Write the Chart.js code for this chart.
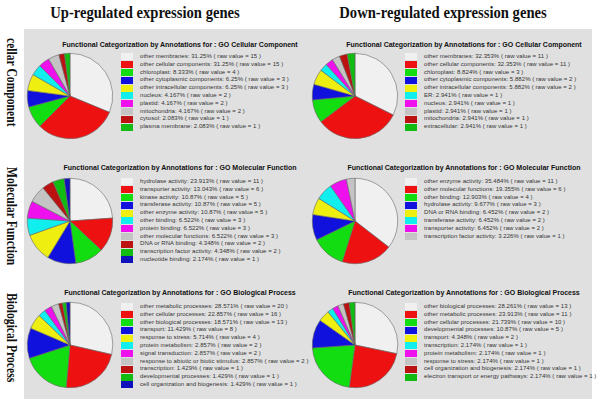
<!DOCTYPE html>
<html>
<head>
<meta charset="utf-8">
<script src="https://cdn.jsdelivr.net/npm/chart.js@4/dist/chart.umd.min.js"></script>
<style>
  body { margin: 0; width: 600px; height: 406px; background: #fff; position: relative; overflow: hidden; }
  .panel { position: absolute; left: 24px; top: 29px; width: 568px; height: 370px; background: #e0e0e0; }
  .head { position: absolute; top: 3px; font: bold 17px "Liberation Serif", "DejaVu Serif", serif; color: #111; white-space: nowrap; transform: translateX(-50%) scaleX(0.86); }
  .rowlab { position: absolute; font: bold 14px "Liberation Serif", serif; color: #111; white-space: nowrap;
            transform-origin: 0 0; transform: rotate(90deg) scaleX(0.83); }
  .title { position: absolute; font: bold 7px "Liberation Sans", Arial, sans-serif; color: #111; white-space: nowrap; transform: translate(-50%, -50%); }
  .pie { position: absolute; width: 88px; height: 88px; }
  .legend { position: absolute; width: max-content; }
  .legend .row { height: 7.8px; display: flex; align-items: center; }
  .legend .sw { width: 12px; height: 7px; margin-right: 7px; flex: none; }
  .legend .tx { font: 6px "Liberation Sans", Arial, sans-serif; letter-spacing: 0.05px; color: #333; white-space: nowrap; line-height: 7.8px; }
</style>
</head>
<body>
<div class="panel"></div>
<div class="head" style="left:145px">Up-regulated expression genes</div>
<div class="head" style="left:443px">Down-regulated expression genes</div>
<div class="rowlab" style="left:19px; top:38px">cellar Component</div>
<div class="rowlab" style="left:19px; top:167px">Molecular Function</div>
<div class="rowlab" style="left:19px; top:293px">Biological Process</div>
<div id="root"></div>
<script>
var ccUpLabels = ['other membranes', 'other cellular components', 'chloroplast', 'other cytoplasmic components', 'other intracellular components', 'nucleus', 'plastid', 'mitochondria', 'cytosol', 'plasma membrane'];
var ccUpValues = [15, 15, 4, 3, 3, 2, 2, 2, 1, 1];

var ccDownLabels = ['other membranes', 'other cellular components', 'chloroplast', 'other cytoplasmic components', 'other intracellular components', 'ER', 'nucleus', 'plastid', 'mitochondria', 'extracellular'];
var ccDownValues = [11, 11, 3, 2, 2, 1, 1, 1, 1, 1];

var mfUpLabels = ['hydrolase activity', 'transporter activity', 'kinase activity', 'transferase activity', 'other enzyme activity', 'other binding', 'protein binding', 'other molecular functions', 'DNA or RNA binding', 'transcription factor activity', 'nucleotide binding'];
var mfUpValues = [11, 6, 5, 5, 5, 3, 3, 3, 2, 2, 1];

var mfDownLabels = ['other enzyme activity', 'other molecular functions', 'other binding', 'hydrolase activity', 'DNA or RNA binding', 'transferase activity', 'transporter activity', 'transcription factor activity'];
var mfDownValues = [11, 6, 4, 3, 2, 2, 2, 1];

var bpUpLabels = ['other metabolic processes', 'other cellular processes', 'other biological processes', 'transport', 'response to stress', 'protein metabolism', 'signal transduction', 'response to abiotic or biotic stimulus', 'transcription', 'developmental processes', 'cell organization and biogenesis'];
var bpUpValues = [20, 16, 13, 8, 4, 2, 2, 2, 1, 1, 1];

var bpDownLabels = ['other biological processes', 'other metabolic processes', 'other cellular processes', 'developmental processes', 'transport', 'transcription', 'protein metabolism', 'response to stress', 'cell organization and biogenesis', 'electron transport or energy pathways'];
var bpDownValues = [13, 11, 10, 5, 2, 1, 1, 1, 1, 1];

var sliceColors = ['#f0f0f0', '#ee1111', '#11dd11', '#1111dd', '#eeee11', '#11eeee', '#ee11ee', '#c4c4c4', '#bb1111', '#11bb11', '#1111bb'];

var panels = [
  { labels: ccUpLabels, values: ccUpValues, title: 'GO Cellular Component', cx: 70, cy: 96, tx: 180, ty: 44, lx: 121, ly: 53 },
  { labels: ccDownLabels, values: ccDownValues, title: 'GO Cellular Component', cx: 355, cy: 96, tx: 464, ty: 44, lx: 405, ly: 53 },
  { labels: mfUpLabels, values: mfUpValues, title: 'GO Molecular Function', cx: 70, cy: 221, tx: 180, ty: 167, lx: 121, ly: 178 },
  { labels: mfDownLabels, values: mfDownValues, title: 'GO Molecular Function', cx: 355, cy: 221, tx: 464, ty: 167, lx: 405, ly: 178 },
  { labels: bpUpLabels, values: bpUpValues, title: 'GO Biological Process', cx: 70, cy: 345, tx: 180, ty: 292, lx: 121, ly: 303 },
  { labels: bpDownLabels, values: bpDownValues, title: 'GO Biological Process', cx: 355, cy: 345, tx: 464, ty: 292, lx: 405, ly: 303 }
];

function pct(v, total) {
  return parseFloat((v / total * 100).toFixed(3)) + '%';
}

var root = document.getElementById('root');

panels.forEach(function(p) {
  var total = p.values.reduce(function(a, b) { return a + b; }, 0);

  var t = document.createElement('div');
  t.className = 'title';
  t.style.left = p.tx + 'px';
  t.style.top = p.ty + 'px';
  t.textContent = 'Functional Categorization by Annotations for : ' + p.title;
  root.appendChild(t);

  var box = document.createElement('div');
  box.className = 'pie';
  box.style.left = (p.cx - 44) + 'px';
  box.style.top = (p.cy - 44) + 'px';
  var cv = document.createElement('canvas');
  box.appendChild(cv);
  root.appendChild(box);

  var lg = document.createElement('div');
  lg.className = 'legend';
  lg.style.left = p.lx + 'px';
  lg.style.top = p.ly + 'px';
  p.labels.forEach(function(lab, k) {
    var row = document.createElement('div');
    row.className = 'row';
    row.innerHTML = '<div class="sw" style="background:' + sliceColors[k] + '"></div>' +
      '<div class="tx">' + lab + ': ' + pct(p.values[k], total) + ' ( raw value = ' + p.values[k] + ' )</div>';
    lg.appendChild(row);
  });
  root.appendChild(lg);

  new Chart(cv.getContext('2d'), {
    type: 'pie',
    data: {
      labels: p.labels,
      datasets: [{
        data: p.values,
        backgroundColor: sliceColors.slice(0, p.values.length),
        borderColor: '#666',
        borderWidth: 0.6
      }]
    },
    options: {
      responsive: true, maintainAspectRatio: false, animation: false,
      layout: { padding: 1 },
      plugins: { legend: { display: false }, tooltip: { enabled: false } }
    }
  });
});
</script>
</body>
</html>
